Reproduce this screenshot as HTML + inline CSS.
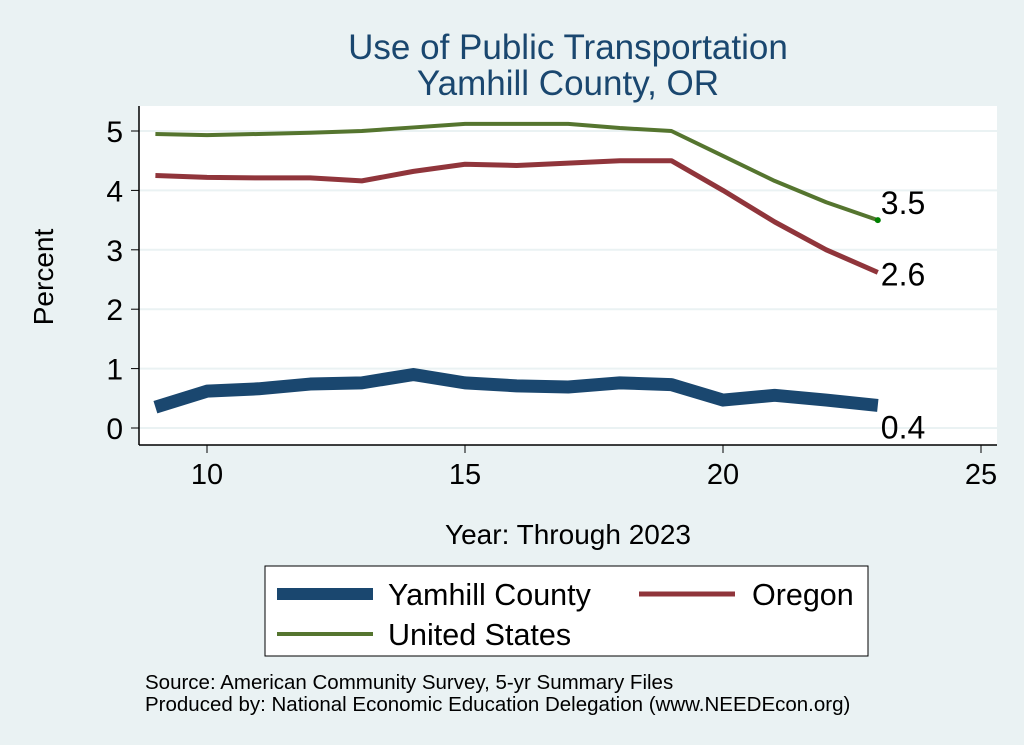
<!DOCTYPE html>
<html><head><meta charset="utf-8"><style>
body{margin:0;background:#eaf2f3;}
svg{display:block;font-family:"Liberation Sans",sans-serif;}
</style></head><body>
<svg width="1024" height="745">
<rect width="1024" height="745" fill="#eaf2f3"/>
<text x="568" y="59" font-size="35" text-anchor="middle" fill="#1a476f">Use of Public Transportation</text>
<text x="568" y="95" font-size="35" text-anchor="middle" fill="#1a476f">Yamhill County, OR</text>
<rect x="139" y="106" width="858" height="339" fill="#fff"/>
<g id="grid"></g>
<g id="axes"></g>
<g id="series"></g>
<text x="53" y="277" font-size="28" text-anchor="middle" transform="rotate(-90 53 277)">Percent</text>
<text x="568" y="544" font-size="28" text-anchor="middle">Year: Through 2023</text>
<g>
<rect x="265" y="566" width="603" height="90" fill="#fff" stroke="#000" stroke-width="1"/>
<line x1="277" y1="594" x2="373" y2="594" stroke="#1a476f" stroke-width="12"/>
<text x="388" y="605" font-size="30.5">Yamhill County</text>
<line x1="639" y1="594" x2="735" y2="594" stroke="#90353b" stroke-width="5"/>
<text x="752" y="605" font-size="30.5">Oregon</text>
<line x1="277" y1="634" x2="373" y2="634" stroke="#55752f" stroke-width="4"/>
<text x="388" y="645" font-size="30.5">United States</text>
</g>
<text x="145" y="689" font-size="20.5">Source: American Community Survey, 5-yr Summary Files</text>
<text x="145" y="711" font-size="20.5">Produced by: National Economic Education Delegation (www.NEEDEcon.org)</text>
</svg>
<script>
const years=[9,10,11,12,13,14,15,16,17,18,19,20,21,22,23];
const yamhill=[0.35,0.62,0.66,0.74,0.76,0.9,0.76,0.71,0.69,0.76,0.73,0.47,0.55,0.47,0.38];
const oregon=[4.25,4.22,4.21,4.21,4.16,4.32,4.44,4.42,4.46,4.5,4.5,4.0,3.47,3.0,2.62];
const us=[4.95,4.93,4.95,4.97,5.0,5.06,5.12,5.12,5.12,5.05,5.0,4.58,4.16,3.8,3.5];
const xTicks=[10,15,20,25];
const yTicks=[0,1,2,3,4,5];
const endLabels=["0.4","2.6","3.5"];
const NS="http://www.w3.org/2000/svg";
const X=v=>207+(v-10)*51.6, Y=v=>428-v*59.4;
function mk(t,a,p){const e=document.createElementNS(NS,t);for(const k in a)e.setAttribute(k,a[k]);p.appendChild(e);return e;}
const grid=document.getElementById('grid'),axes=document.getElementById('axes'),ser=document.getElementById('series');
yTicks.forEach(t=>{
 const g=mk('line',{x1:139,x2:997,y1:Y(t),y2:Y(t),stroke:'#eaf2f3','stroke-width':2},grid);
 
 
 mk('line',{x1:131,x2:139,y1:Y(t),y2:Y(t),stroke:'#000'},axes);
 const l=mk('text',{x:123,y:Y(t)+11,'font-size':30,'text-anchor':'end'},axes);l.textContent=t;
 
 
});
xTicks.forEach(t=>{
 mk('line',{x1:X(t),x2:X(t),y1:445,y2:453,stroke:'#000'},axes);
 const l=mk('text',{x:X(t),y:484,'font-size':29,'text-anchor':'middle'},axes);l.textContent=t;
 
 
});
mk('line',{x1:139,x2:139,y1:106,y2:445,stroke:'#000','stroke-width':1.5},axes);
mk('line',{x1:139,x2:997,y1:445,y2:445,stroke:'#000','stroke-width':1.5},axes);
function line(d,c,w,name){
 const p=mk('polyline',{points:years.map((y,i)=>X(y)+','+Y(d[i])).join(' '),fill:'none',stroke:c,'stroke-width':w,'stroke-linejoin':'round'},ser);
 
 
}
line(us,'#55752f',4,'line-united-states');
line(oregon,'#90353b',5,'line-oregon');
line(yamhill,'#1a476f',13,'line-yamhill');
const last=years.length-1;
mk('circle',{cx:X(years[last]),cy:Y(us[last]),r:3,fill:'#008000'},ser);
[[yamhill,23],[oregon,3],[us,-16]].forEach((s,i)=>{
 const t=mk('text',{x:X(years[last])+3,y:Y(s[0][last])+s[1]+10,'font-size':32},ser);
 t.textContent=endLabels[i];
 
 
});
</script>
</body></html>
